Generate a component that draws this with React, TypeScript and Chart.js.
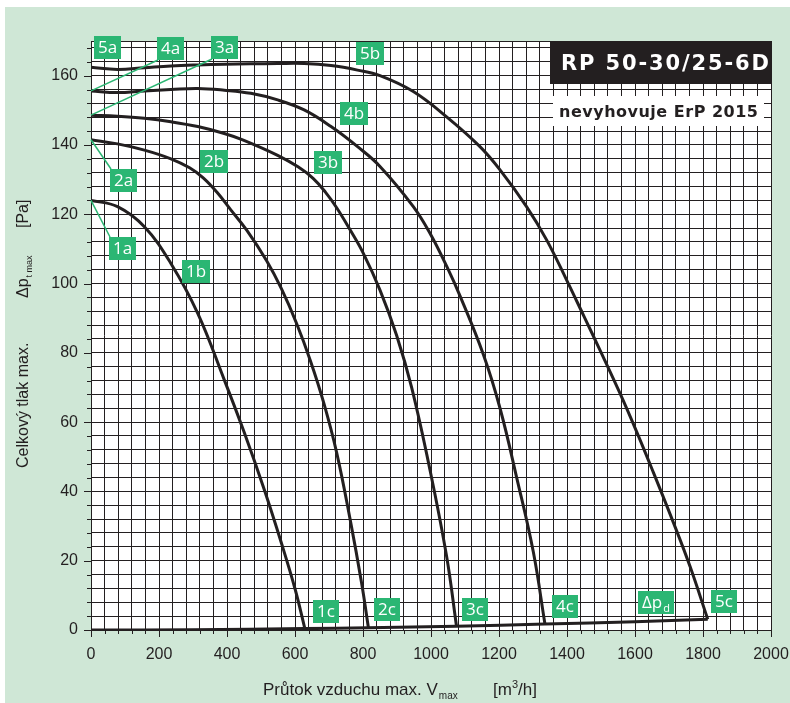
import React, { useEffect, useRef } from 'react';
import { Chart, registerables } from 'chart.js';

Chart.register(...registerables);

// ---- axis definitions ----
const xTickLabels = [0, 200, 400, 600, 800, 1000, 1200, 1400, 1600, 1800, 2000];
const yTickLabels = [0, 20, 40, 60, 80, 100, 120, 140, 160];
const X_MIN = 0;
const X_MAX = 2000;
const Y_MIN = 0;
const Y_MAX = 170;
const X_GRID_STEP = 40;
const Y_GRID_STEP = 4;

// ---- fan curves: [flow m3/h, total pressure Pa] ----
const curve1 = [
  [0, 124], [78, 122.2], [157, 116.4], [235, 105.8], [314, 91.4], [392, 72.2],
  [450, 57.2], [510, 40.4], [560, 25.1], [600, 11.9], [629, 0.4],
];
const curve2 = [
  [0, 141.5], [78, 140.3], [157, 138.5], [235, 136], [290, 133.4], [330, 130.5],
  [370, 126.4], [410, 121.4], [458, 115.4], [517, 106.5], [560, 98.5], [605, 88.4],
  [645, 77.8], [685, 65.4], [723, 51], [762, 32], [796, 13.5], [816, 0.6],
];
const curve3 = [
  [0, 148.6], [78, 148.3], [157, 147.7], [235, 146.7], [314, 145.3], [392, 143.3],
  [448, 141.4], [549, 137], [610, 133.6], [654, 130.3], [690, 126.3], [723, 121.8],
  [762, 115.5], [801, 108.7], [850, 98.1], [899, 85], [943, 70], [997, 46.2],
  [1046, 21.2], [1075, 1.1],
];
const curve4 = [
  [0, 155.6], [78, 155.1], [157, 155.6], [235, 156], [314, 156.3], [392, 155.8],
  [470, 154.9], [549, 153], [627, 150.1], [706, 145.3], [784, 139.5], [850, 133.8],
  [948, 122.2], [997, 114.5], [1046, 105], [1085, 96.5], [1154, 79.5], [1203, 64],
  [1252, 44], [1301, 22.5], [1335, 1.8],
];
const curve5 = [
  [0, 162.4], [78, 161.8], [157, 162.3], [235, 162.8], [314, 163.1], [392, 163.3],
  [470, 163.4], [549, 163.5], [627, 163.5], [706, 162.9], [784, 161.6], [850, 160],
  [948, 155.4], [1046, 148.1], [1144, 139.5], [1203, 132.8], [1281, 122.2], [1340, 112.6],
  [1399, 101], [1450, 90.5], [1497, 80.8], [1556, 68.3], [1605, 57.2], [1654, 45.5],
  [1713, 31], [1762, 18.3], [1814, 3.1],
];
// dynamic pressure line
const dynamicPressure = [
  [0, 0], [300, 0.08], [629, 0.4], [816, 0.62], [1075, 1.1], [1335, 1.7], [1600, 2.4], [1814, 3.1],
];

// ---- curve labels, anchored in data units (box centre) ----
const curveLabels = [
  { text: '5a', x: 48, y: 168.1 },
  { text: '4a', x: 234, y: 167.7 },
  { text: '3a', x: 393, y: 168.1 },
  { text: '2a', x: 96, y: 129.6 },
  { text: '1a', x: 93, y: 110 },
  { text: '1b', x: 310, y: 103.6 },
  { text: '2b', x: 363, y: 135.2 },
  { text: '3b', x: 696, y: 134.8 },
  { text: '4b', x: 774, y: 149.2 },
  { text: '5b', x: 822, y: 166.4 },
  { text: '1c', x: 690, y: 5.3 },
  { text: '2c', x: 872, y: 5.8 },
  { text: '3c', x: 1128, y: 5.8 },
  { text: '4c', x: 1393, y: 6.9 },
  { text: 'Δp|d', x: 1663, y: 7.9 },
  { text: '5c', x: 1863, y: 8.2 },
];
// leader lines: label -> curve start
const leaders = [
  { label: '4a', corner: 'bl', x: 0, y: 155.6 },
  { label: '3a', corner: 'bl', x: 0, y: 148.6 },
  { label: '2a', corner: 'tl', x: 0, y: 141.5 },
  { label: '1a', corner: 'tl', x: 0, y: 124 },
];

const modelTitle = 'RP 50-30/25-6D';
const subTitle = 'nevyhovuje ErP 2015';

const DARK = '#231f20';
const GREEN = '#2bb673';
const PANEL = '#cfe7d6';
const SANS = '"Liberation Sans", Arial, sans-serif';
const LABEL_FONT = '"Open Sans", "Noto Sans", sans-serif';
const TITLE_FONT = '"DejaVu Sans", "Open Sans", sans-serif';

const toXY = (arr: number[][]) => arr.map(([x, y]) => ({ x, y }));

function gridValues(min: number, max: number, step: number) {
  const out: number[] = [];
  for (let v = min; v <= max + 1e-9; v += step) out.push(v);
  if (out[out.length - 1] !== max) out.push(max);
  return out;
}

function fitText(ctx: CanvasRenderingContext2D, text: string, x: number, y: number, target: number) {
  (ctx as any).letterSpacing = '0px';
  const w = ctx.measureText(text).width;
  const ls = (target - w) / (text.length - 1);
  (ctx as any).letterSpacing = `${ls}px`;
  ctx.fillText(text, x, y);
  (ctx as any).letterSpacing = '0px';
}

const decorPlugin = {
  id: 'decor',
  beforeDraw(chart: any) {
    const { ctx, width, height, chartArea: a } = chart;
    ctx.save();
    ctx.fillStyle = '#ffffff';
    ctx.fillRect(0, 0, width, height);
    ctx.fillStyle = PANEL;
    ctx.fillRect(5, 7, width - 5, height - 7);
    ctx.fillStyle = '#ffffff';
    ctx.fillRect(a.left, a.top, a.right - a.left, a.bottom - a.top);
    ctx.restore();
  },
  afterDraw(chart: any) {
    const { ctx, chartArea: a } = chart;
    const xs = chart.scales.x;
    const ys = chart.scales.y;
    ctx.save();

    // tick marks
    ctx.strokeStyle = DARK;
    ctx.lineWidth = 1;
    ctx.beginPath();
    for (let v = X_MIN; v <= X_MAX; v += X_GRID_STEP) {
      const px = Math.round(xs.getPixelForValue(v)) + 0.5;
      const len = xTickLabels.includes(v) ? 7 : 4;
      ctx.moveTo(px, a.bottom);
      ctx.lineTo(px, a.bottom + len);
    }
    for (let v = Y_MIN; v <= Y_MAX; v += Y_GRID_STEP) {
      const py = Math.round(ys.getPixelForValue(v)) + 0.5;
      const len = yTickLabels.includes(v) ? 7 : 4;
      ctx.moveTo(a.left - len, py);
      ctx.lineTo(a.left, py);
    }
    ctx.stroke();

    // model title box
    const tbL = a.right - 221;
    const tbT = a.top;
    const tbW = 222;
    const tbH = 43;
    ctx.fillStyle = DARK;
    ctx.fillRect(tbL, tbT, tbW, tbH);
    ctx.fillStyle = '#ffffff';
    ctx.font = `bold 21px ${TITLE_FONT}`;
    ctx.textAlign = 'left';
    ctx.textBaseline = 'alphabetic';
    fitText(ctx, modelTitle, tbL + 11, tbT + 29, 208);

    // sub title box
    const sbL = a.right - 218;
    const sbT = a.top + 55;
    ctx.fillStyle = '#ffffff';
    ctx.fillRect(sbL, sbT, 211, 30);
    ctx.fillStyle = DARK;
    ctx.font = `bold 16px ${TITLE_FONT}`;
    fitText(ctx, subTitle, sbL + 6, sbT + 21, 199);

    // label boxes
    const boxes: Record<string, { l: number; t: number; w: number; h: number }> = {};
    for (const lab of curveLabels) {
      const cx = xs.getPixelForValue(lab.x);
      const cy = ys.getPixelForValue(lab.y);
      const [main, sub] = lab.text.split('|');
      ctx.font = `17px ${LABEL_FONT}`;
      const wMain = ctx.measureText(main).width;
      ctx.font = `11px ${LABEL_FONT}`;
      const wSub = sub ? ctx.measureText(sub).width + 1 : 0;
      const w = Math.round(wMain + wSub + 8);
      const h = 23;
      const l = Math.round(cx - w / 2);
      const t = Math.round(cy - h / 2);
      boxes[lab.text] = { l, t, w, h };
      ctx.fillStyle = GREEN;
      ctx.fillRect(l, t, w, h);
      ctx.fillStyle = '#ffffff';
      ctx.textBaseline = 'alphabetic';
      ctx.font = `17px ${LABEL_FONT}`;
      ctx.fillText(main, l + 4, t + 17);
      if (sub) {
        ctx.font = `11px ${LABEL_FONT}`;
        ctx.fillText(sub, l + 4 + wMain + 1, t + 21);
      }
    }

    // leaders
    ctx.strokeStyle = GREEN;
    ctx.lineWidth = 1.5;
    for (const ld of leaders) {
      const b = boxes[ld.label];
      if (!b) continue;
      const sx = b.l + 1;
      const sy = ld.corner === 'bl' ? b.t + b.h : b.t;
      ctx.beginPath();
      ctx.moveTo(sx, sy);
      ctx.lineTo(xs.getPixelForValue(ld.x), ys.getPixelForValue(ld.y));
      ctx.stroke();
    }

    // axis titles
    ctx.fillStyle = DARK;
    ctx.textBaseline = 'alphabetic';
    ctx.textAlign = 'left';
    // x title
    {
      const bx = a.left + 172;
      const by = a.bottom + 65;
      ctx.font = `17px ${SANS}`;
      const t1 = 'Průtok vzduchu max. V';
      ctx.fillText(t1, bx, by);
      const w1 = ctx.measureText(t1).width;
      ctx.font = `10px ${SANS}`;
      ctx.fillText('max', bx + w1 + 1, by + 4);
      const ux = a.left + 402;
      ctx.font = `17px ${SANS}`;
      ctx.fillText('[m', ux, by);
      const wm = ctx.measureText('[m').width;
      ctx.font = `11px ${SANS}`;
      ctx.fillText('3', ux + wm, by - 7);
      const w3 = ctx.measureText('3').width;
      ctx.font = `17px ${SANS}`;
      ctx.fillText('/h]', ux + wm + w3, by);
    }
    // y title
    {
      ctx.translate(28, a.bottom - 162);
      ctx.rotate(-Math.PI / 2);
      ctx.font = `16px ${SANS}`;
      ctx.fillText('Celkový tlak max.', 0, 0);
      ctx.fillText('Δp', 170, 0);
      const wd = ctx.measureText('Δp').width;
      ctx.font = `9px ${SANS}`;
      ctx.fillText('t max', 170 + wd + 1, 4);
      ctx.font = `16px ${SANS}`;
      ctx.fillText('[Pa]', 240, 0);
    }
    ctx.restore();
  },
};

export default function App() {
  const canvasRef = useRef<HTMLCanvasElement | null>(null);

  useEffect(() => {
    const canvas = canvasRef.current;
    if (!canvas) return;
    const lineStyle = {
      borderColor: DARK,
      borderWidth: 3,
      pointRadius: 0,
      fill: false,
      tension: 0.4,
    };
    const chart = new Chart(canvas, {
      type: 'line',
      data: {
        datasets: [
          { label: '1', data: toXY(curve1), ...lineStyle },
          { label: '2', data: toXY(curve2), ...lineStyle },
          { label: '3', data: toXY(curve3), ...lineStyle },
          { label: '4', data: toXY(curve4), ...lineStyle },
          { label: '5', data: toXY(curve5), ...lineStyle },
          { label: 'Δpd', data: toXY(dynamicPressure), ...lineStyle, tension: 0.3 },
        ] as any,
      },
      options: {
        responsive: false,
        animation: false,
        devicePixelRatio: 1,
        layout: { padding: { top: 41, right: 19, left: 0, bottom: 0 } },
        plugins: { legend: { display: false }, tooltip: { enabled: false } },
        scales: {
          x: {
            type: 'linear',
            min: X_MIN,
            max: X_MAX,
            afterBuildTicks: (s: any) => {
              s.ticks = gridValues(X_MIN, X_MAX, X_GRID_STEP).map((v) => ({ value: v }));
            },
            afterFit: (s: any) => {
              s.height = 73;
              s.paddingLeft = 0;
              s.paddingRight = 0;
            },
            grid: { color: DARK, lineWidth: 1, drawTicks: false },
            border: { color: DARK, width: 1 },
            ticks: {
              autoSkip: false,
              maxRotation: 0,
              padding: 15,
              color: DARK,
              font: { family: SANS, size: 16 },
              callback: (v: any) => (xTickLabels.includes(Number(v)) ? String(v) : ''),
            },
          },
          y: {
            type: 'linear',
            min: Y_MIN,
            max: Y_MAX,
            afterBuildTicks: (s: any) => {
              s.ticks = gridValues(Y_MIN, Y_MAX, Y_GRID_STEP).map((v) => ({ value: v }));
            },
            afterFit: (s: any) => {
              s.width = 91;
              s.paddingTop = 0;
              s.paddingBottom = 0;
            },
            grid: { color: DARK, lineWidth: 1, drawTicks: false },
            border: { color: DARK, width: 1 },
            ticks: {
              autoSkip: false,
              padding: 13,
              color: DARK,
              font: { family: SANS, size: 16 },
              callback: (v: any) => (yTickLabels.includes(Number(v)) ? String(v) : ''),
            },
          },
        },
      },
      plugins: [decorPlugin],
    } as any);
    return () => chart.destroy();
  }, []);

  return (
    <div style={{ position: 'absolute', left: 0, top: 0, width: 790, height: 703 }}>
      <canvas ref={canvasRef} width={790} height={703} style={{ display: 'block', width: 790, height: 703 }} />
    </div>
  );
}
